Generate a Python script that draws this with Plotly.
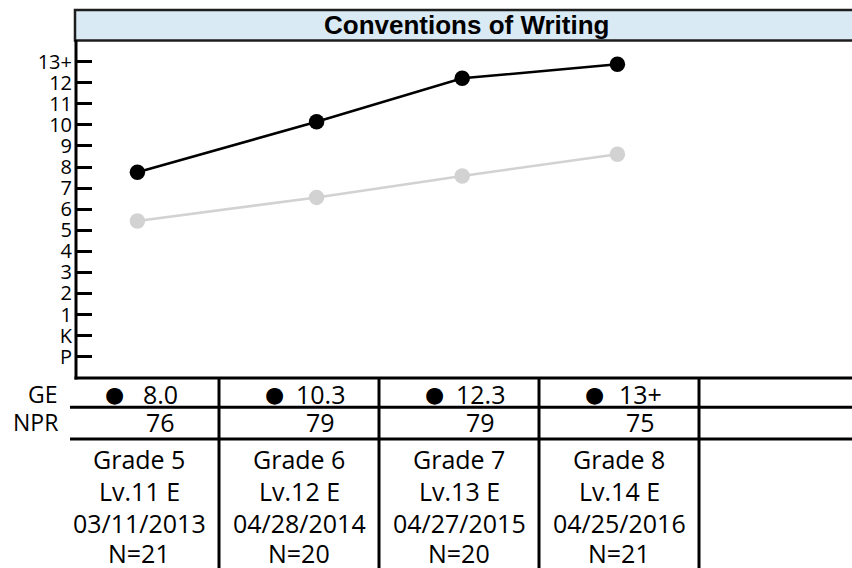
import plotly.graph_objects as go

# ---------------- data ----------------
test_pos = [-0.01, 1.11, 2.02, 2.99]          # horizontal position of each test (column units)
group_ge = [7.75, 10.15, 12.21, 12.88]        # black series (plotted grade equivalent)
compare_ge = [5.44, 6.56, 7.58, 8.61]         # grey series

ge_labels = ["8.0", "10.3", "12.3", "13+"]
npr_values = [76, 79, 79, 75]
grades = ["Grade 5", "Grade 6", "Grade 7", "Grade 8"]
levels = ["Lv.11 E", "Lv.12 E", "Lv.13 E", "Lv.14 E"]
test_dates = ["03/11/2013", "04/28/2014", "04/27/2015", "04/25/2016"]
n_counts = [21, 20, 20, 21]

y_tick_vals = list(range(-1, 14))
y_tick_text = ["P", "K"] + [str(i) for i in range(1, 13)] + ["13+"]

title_text = "Conventions of Writing"

# ---------------- layout helpers ----------------
W, H = 852, 568
FONT = "Open Sans, Liberation Sans, sans-serif"
TFONT = "Liberation Sans, Arial, sans-serif"


def px(x):
    return x / W


def py(y):
    return 1 - y / H


PL, PR, PT, PB = 76, 852, 41, 378
COL0, COLW = 139, 160  # pixel centre of first table column, column width

fig = go.Figure()

fig.add_trace(go.Scatter(
    x=test_pos, y=compare_ge, mode="lines+markers", name="Comparison",
    line=dict(color="#d2d2d2", width=2.5),
    marker=dict(color="#d2d2d2", size=15.5),
    showlegend=False, hoverinfo="skip"))
fig.add_trace(go.Scatter(
    x=test_pos, y=group_ge, mode="lines+markers", name="GE",
    line=dict(color="#000000", width=2.5),
    marker=dict(color="#000000", size=15.5),
    showlegend=False, hoverinfo="skip"))

shapes = []
# title box
shapes.append(dict(type="rect", xref="paper", yref="paper",
                   x0=px(75), x1=px(860), y0=py(40.5), y1=py(10),
                   fillcolor="#daeaf5", line=dict(color="#1e1e1e", width=2.5),
                   layer="below"))
# axis lines
shapes.append(dict(type="line", xref="paper", yref="paper",
                   x0=px(PL), x1=px(PL), y0=py(40), y1=py(PB + 1.5),
                   line=dict(color="black", width=3)))
shapes.append(dict(type="line", xref="paper", yref="paper",
                   x0=px(PL - 1.5), x1=px(860), y0=py(PB), y1=py(PB),
                   line=dict(color="black", width=3)))
# table horizontal lines
for yy in [407.3, 439]:
    shapes.append(dict(type="line", xref="paper", yref="paper",
                       x0=px(70), x1=px(860), y0=py(yy), y1=py(yy),
                       line=dict(color="black", width=3)))
# table vertical lines
for k in range(4):
    shapes.append(dict(type="line", xref="x", yref="paper",
                       x0=k + 0.5, x1=k + 0.5, y0=py(PB), y1=py(575),
                       line=dict(color="black", width=3)))

annotations = []
# title
annotations.append(dict(text="<b>" + title_text + "</b>", xref="paper", yref="paper",
                        x=px(467), y=py(25), xanchor="center", yanchor="middle",
                        showarrow=False, font=dict(family=TFONT, size=26, color="black")))
# row labels
annotations.append(dict(text="GE", xref="paper", yref="paper", x=px(60), y=py(394),
                        xanchor="right", yanchor="middle", showarrow=False,
                        font=dict(family=FONT, size=23, color="black")))
annotations.append(dict(text="NPR", xref="paper", yref="paper", x=px(60), y=py(421.5),
                        xanchor="right", yanchor="middle", showarrow=False,
                        font=dict(family=FONT, size=23, color="black")))

for k in range(4):
    # bullet
    annotations.append(dict(text="\u25CF", xref="x", yref="paper", x=k, y=py(394.5),
                            xshift=-25, xanchor="center", yanchor="middle", showarrow=False,
                            font=dict(family="DejaVu Sans", size=22, color="black")))
    annotations.append(dict(text=ge_labels[k], xref="x", yref="paper", x=k, y=py(394),
                            xshift=21, xanchor="center", yanchor="middle", showarrow=False,
                            font=dict(family=FONT, size=25, color="black")))
    annotations.append(dict(text=str(npr_values[k]), xref="x", yref="paper", x=k, y=py(421.5),
                            xshift=21, xanchor="center", yanchor="middle", showarrow=False,
                            font=dict(family=FONT, size=25, color="black")))
    for txt, yy in [(grades[k], 459.2), (levels[k], 491.2), (test_dates[k], 522.5),
                    ("N=" + str(n_counts[k]), 552.5)]:
        annotations.append(dict(text=txt, xref="x", yref="paper", x=k, y=py(yy),
                                xanchor="center", yanchor="middle", showarrow=False,
                                font=dict(family=FONT, size=25, color="black")))

fig.update_layout(
    width=W, height=H,
    margin=dict(l=0, r=0, t=0, b=0),
    paper_bgcolor="white", plot_bgcolor="white",
    showlegend=False,
    xaxis=dict(domain=[px(PL), 1], range=[(PL - COL0) / COLW, (PR - COL0) / COLW],
               showgrid=False, zeroline=False, showline=False, showticklabels=False,
               ticks="", fixedrange=True),
    yaxis=dict(domain=[py(PB), py(PT)], range=[-2.011, 13.982],
               tickvals=y_tick_vals, ticktext=y_tick_text,
               ticks="inside", ticklen=16, tickwidth=3, tickcolor="black",
               showgrid=False, zeroline=False, showline=False,
               tickfont=dict(family=FONT, size=20, color="black"),
               ticklabelstandoff=3, automargin=False, fixedrange=True),
    shapes=shapes,
    annotations=annotations,
)

fig.write_html("out.html", config={"displayModeBar": False, "staticPlot": True},
               post_script="document.body.style.margin='0px';document.body.style.overflow='hidden';")
